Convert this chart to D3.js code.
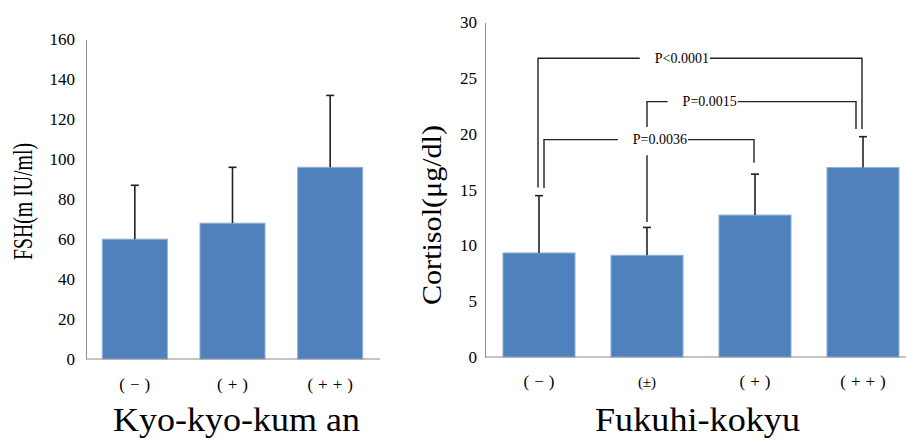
<!DOCTYPE html>
<html>
<head>
<meta charset="utf-8">
<script src="https://cdn.jsdelivr.net/npm/d3@7/dist/d3.min.js"></script>
<style>
  html, body { margin: 0; padding: 0; background: #fff; }
  svg { display: block; }
  text { font-family: "Liberation Serif", "Times New Roman", serif; fill: #000; }
</style>
</head>
<body>
<svg id="chart" width="906" height="438"></svg>
<script>
// ---- Data: left panel (FSH by Kyo-kyo-kum an) ----
const fshCategories = ["(−)", "(+)", "(++)"];
const fshMeans = [60, 68, 96];
const fshErrors = [27, 28, 36];
const fshTicks = [0, 20, 40, 60, 80, 100, 120, 140, 160];

// ---- Data: right panel (Cortisol by Fukuhi-kokyu) ----
const cortCategories = ["(−)", "(±)", "(+)", "(++)"];
const cortMeans = [9.33, 9.12, 12.73, 17.0];
const cortErrors = [5.14, 2.5, 3.67, 2.76];
const cortTicks = [0, 5, 10, 15, 20, 25, 30];

// significance brackets: from/to category index, label, top level, leg end levels
const bracketLabels = ["P<0.0001", "P=0.0015", "P=0.0036"];
const bracketFrom = [0, 1, 0];
const bracketTo = [3, 3, 2];
const bracketTop = [26.8, 22.9, 19.5];
const bracketLeftEnd = [15.2, 20.63, 15.16];
const bracketRightEnd = [20.45, 20.45, 17.43];
const bracketLabelPos = [0.444, 0.30, 0.552];
// continuation of the (±) lead line below the P=0.0036 label row
const leadCategory = 1, leadFrom = 18.1, leadTo = 12.1;

const FONT = '"Liberation Serif", "Times New Roman", serif';
const svg = d3.select("#chart");
const barFill = "#4F81BD", barEdge = "#8FB0DA", axisColor = "#8C8C8C", errColor = "#222";

function panel(opts) {
  const g = svg.append("g");
  const x = d3.scaleBand().domain(opts.cats).range(opts.xRange)
    .paddingInner(opts.pad).paddingOuter(opts.pad / 2);
  const y = d3.scaleLinear().domain(opts.yDomain).range(opts.yRange);

  // y axis line & tick labels (no tick marks)
  const yAxis = d3.axisLeft(y).tickValues(opts.ticks).tickSize(0).tickPadding(opts.tickPad);
  const ya = g.append("g").attr("transform", `translate(${opts.xRange[0]},0)`).call(yAxis);
  ya.attr("font-family", null).attr("font-size", null);
  ya.select(".domain").attr("stroke", axisColor).attr("stroke-width", 1);
  ya.selectAll("text").style("font-family", FONT).style("font-size", "17px").attr("fill", "#000");

  // bars
  g.selectAll("rect.bar").data(opts.means).join("rect")
    .attr("class", "bar")
    .attr("x", (d, i) => x(opts.cats[i]))
    .attr("width", x.bandwidth())
    .attr("y", d => y(d))
    .attr("height", d => y(0) - y(d))
    .attr("fill", barFill).attr("stroke", barEdge).attr("stroke-width", 1);

  // baseline
  g.append("line").attr("x1", opts.xRange[0]).attr("x2", opts.baseEnd)
    .attr("y1", y(0)).attr("y2", y(0)).attr("stroke", axisColor).attr("stroke-width", 1.2);

  // error bars (upper only)
  opts.means.forEach((m, i) => {
    const cx = x(opts.cats[i]) + x.bandwidth() / 2;
    g.append("line").attr("x1", cx).attr("x2", cx).attr("y1", y(m)).attr("y2", y(m + opts.errs[i]))
      .attr("stroke", errColor).attr("stroke-width", 1.6);
    g.append("line").attr("x1", cx - 4).attr("x2", cx + 4)
      .attr("y1", y(m + opts.errs[i])).attr("y2", y(m + opts.errs[i]))
      .attr("stroke", errColor).attr("stroke-width", 1.6);
  });

  // category labels
  g.selectAll("text.cat").data(opts.cats).join("text")
    .attr("class", "cat")
    .attr("x", d => x(d) + x.bandwidth() / 2 + (d === "(±)" ? 0 : 2.5))
    .attr("y", opts.catY)
    .attr("text-anchor", "middle")
    .style("font-family", FONT)
    .style("font-size", d => d === "(±)" ? "15px" : "17px")
    .style("letter-spacing", d => d === "(±)" ? "0px" : "5px")
    .text(d => d);

  // y title
  g.append("text")
    .attr("transform", `translate(${opts.yTitleX},${opts.yTitleY}) rotate(-90)`)
    .attr("text-anchor", "middle")
    .attr("textLength", opts.yTitleLen).attr("lengthAdjust", "spacingAndGlyphs")
    .style("font-family", FONT)
    .style("font-size", opts.yTitleSize + "px")
    .text(opts.yTitle);

  // group title
  g.append("text").attr("x", opts.titleX).attr("y", 431)
    .attr("text-anchor", "middle")
    .attr("textLength", opts.titleLen).attr("lengthAdjust", "spacingAndGlyphs")
    .style("font-family", FONT)
    .style("font-size", "34px")
    .text(opts.title);

  return { g, x, y };
}

panel({
  cats: fshCategories, means: fshMeans, errs: fshErrors, ticks: fshTicks,
  xRange: [86, 379], pad: 0.334, yDomain: [0, 160], yRange: [359, 39.5],
  baseEnd: 380, tickPad: 11, catY: 390,
  yTitle: "FSH(m IU/ml)", yTitleX: 32, yTitleY: 201.5, yTitleLen: 117, yTitleSize: 27,
  title: "Kyo-kyo-kum an", titleX: 236.5, titleLen: 247
});

const R = panel({
  cats: cortCategories, means: cortMeans, errs: cortErrors, ticks: cortTicks,
  xRange: [485, 917], pad: 0.333, yDomain: [0, 30], yRange: [357, 22.5],
  baseEnd: 906, tickPad: 8, catY: 387,
  yTitle: "Cortisol(μg/dl)", yTitleX: 441, yTitleY: 215, yTitleLen: 180, yTitleSize: 28,
  title: "Fukuhi-kokyu", titleX: 697.5, titleLen: 205
});

// brackets
const legOffsetL = [-1, 0, 5], legOffsetR = [-1, -7, -1];
const bg = R.g.append("g").attr("stroke", "#222").attr("stroke-width", 1.4).attr("fill", "none");
bracketLabels.forEach((lab, i) => {
  const cx = k => R.x(cortCategories[k]) + R.x.bandwidth() / 2;
  const xl = cx(bracketFrom[i]) + legOffsetL[i];
  const xr = cx(bracketTo[i]) + legOffsetR[i];
  const yt = R.y(bracketTop[i]);
  const tx = xl + (xr - xl) * bracketLabelPos[i];
  const t = R.g.append("text").attr("x", tx).attr("y", yt + 4.5)
    .attr("text-anchor", "middle").style("font-family", FONT).style("font-size", "14px").text(lab);
  const w = t.node().getComputedTextLength();
  bg.append("path").attr("d",
    `M${xl},${R.y(bracketLeftEnd[i])}V${yt}H${tx - w / 2 - 15}`);
  bg.append("path").attr("d",
    `M${tx + w / 2 + 1},${yt}H${xr}V${R.y(bracketRightEnd[i])}`);
});
{
  const cx = R.x(cortCategories[leadCategory]) + R.x.bandwidth() / 2;
  bg.append("line").attr("x1", cx).attr("x2", cx).attr("y1", R.y(leadFrom)).attr("y2", R.y(leadTo));
}
</script>
</body>
</html>
